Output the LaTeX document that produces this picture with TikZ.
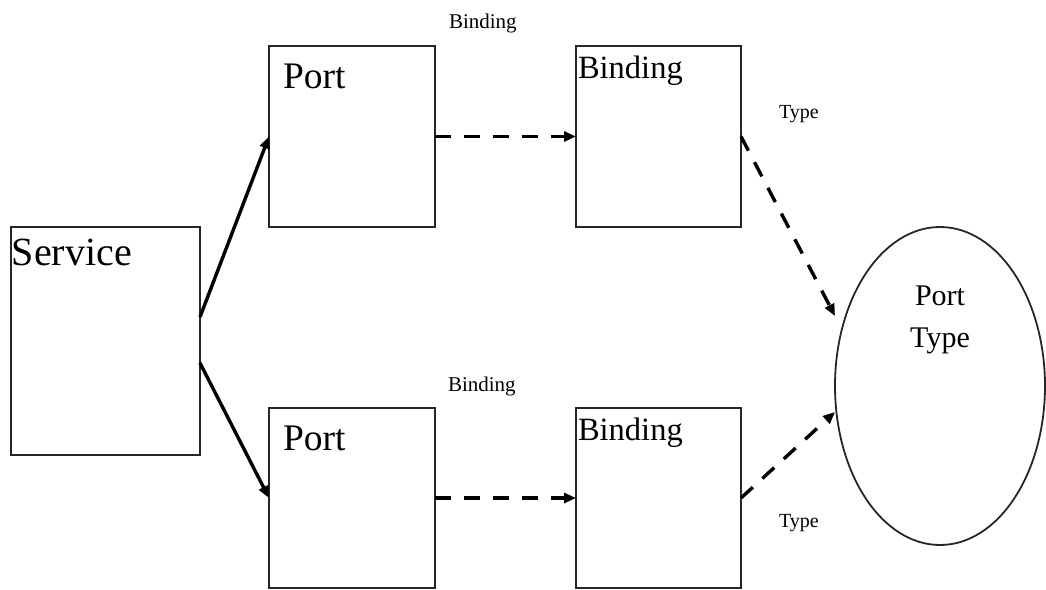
\documentclass[tikz,border=0pt]{standalone}
\usepackage{fontspec}
\setmainfont{Liberation Serif}
\usetikzlibrary{arrows.meta,shapes.geometric}
\begin{document}
\begin{tikzpicture}[x=1pt,y=-1pt,
  box/.style={draw=black!85, line width=2.3pt, inner sep=0pt, outer sep=0pt, fill=white},
  oval/.style={draw=black!85, ellipse, line width=1.8pt, inner sep=0pt, outer sep=0pt},
  txt/.style={inner sep=0pt, outer sep=0pt, anchor=base west},
  solidarrow/.style={line width=3.4pt, -{Triangle[length=12pt,width=10pt]}},
  dasharrow/.style={line width=3.4pt, dash pattern=on 16pt off 13pt, -{Triangle[length=12pt,width=10pt]}}
]
\useasboundingbox (0,0) rectangle (1046,589);

% boxes
\node[box, minimum width=189pt, minimum height=228pt] (svc)   at (105.5,341) {};
\node[box, minimum width=166pt, minimum height=181pt] (portA) at (352,136.5) {};
\node[box, minimum width=165pt, minimum height=181pt] (bindA) at (658.5,136.5) {};
\node[box, minimum width=166pt, minimum height=180pt] (portB) at (352,498) {};
\node[box, minimum width=165pt, minimum height=180pt] (bindB) at (658.5,498) {};
\node[oval, minimum width=210pt, minimum height=318pt] (ptype) at (940,386) {};

% box titles
\node[txt, font=\fontsize{40}{44}\selectfont]   (tsvc)   at (12,265)  {Service};
\node[txt, font=\fontsize{37.5}{42}\selectfont] (tportA) at (283,88)  {Port};
\node[txt, font=\fontsize{37.5}{42}\selectfont] (tportB) at (283,450) {Port};
\node[txt, font=\fontsize{32.5}{38}\selectfont] (tbindA) at (578,78)  {Binding};
\node[txt, font=\fontsize{32.5}{38}\selectfont] (tbindB) at (578,440) {Binding};
\node[inner sep=0pt, anchor=base, align=center, font=\fontsize{30}{42}\selectfont] (tptype) at (940,347) {Port\\Type};

% small edge labels
\node[txt, font=\fontsize{21}{24}\selectfont] (lbA) at (449,28)  {Binding};
\node[txt, font=\fontsize{21}{24}\selectfont] (lbB) at (448,391) {Binding};
\node[txt, font=\fontsize{20}{24}\selectfont] (ltA) at (779,118) {Type};
\node[txt, font=\fontsize{20}{24}\selectfont] (ltB) at (779,527) {Type};

% connectors
\draw[solidarrow] ([yshift=24pt]svc.east)  -- (portA.west);
\draw[solidarrow] ([yshift=-22pt]svc.east) -- (portB.west);
\draw[dasharrow] (portA.east) -- (bindA.west);
\draw[dasharrow] (portB.east) -- (bindB.west);
\draw[dasharrow] (bindA.east) -- ([yshift=70pt]ptype.west);
\draw[dasharrow] (bindB.east) -- ([yshift=-26pt]ptype.west);
\end{tikzpicture}
\end{document}
